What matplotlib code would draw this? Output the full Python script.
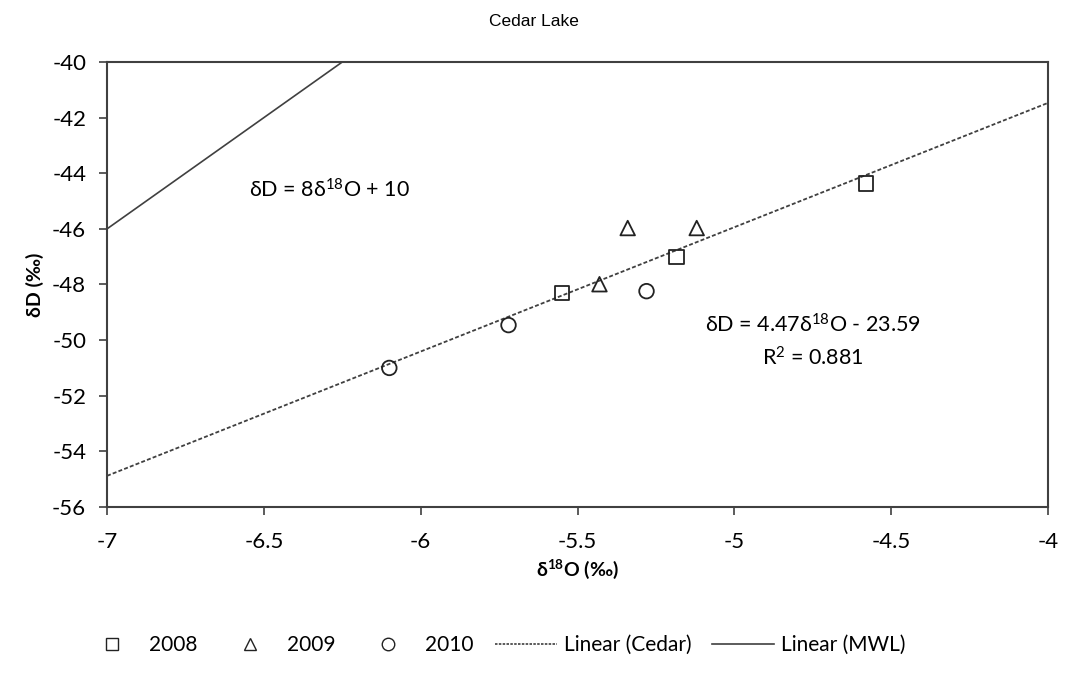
import numpy as np
import matplotlib
matplotlib.use("Agg")
import matplotlib.pyplot as plt
from matplotlib.lines import Line2D

plt.rcParams['font.family'] = ['Lato', 'DejaVu Sans']
plt.rcParams['mathtext.fontset'] = 'custom'
plt.rcParams['mathtext.rm'] = 'Lato'
plt.rcParams['mathtext.default'] = 'regular'
plt.rcParams['axes.unicode_minus'] = False

# data
x2008 = [-5.55, -5.185, -4.58]
y2008 = [-48.31, -47.01, -44.36]
x2009 = [-5.34, -5.12, -5.43]
y2009 = [-45.97, -45.97, -47.99]
x2010 = [-6.10, -5.72, -5.28]
y2010 = [-51.0, -49.46, -48.24]

cedar_slope, cedar_icpt = 4.47, -23.59
mwl_slope, mwl_icpt = 8, 10

xticks = [-7, -6.5, -6, -5.5, -5, -4.5, -4]
yticks = [-40, -42, -44, -46, -48, -50, -52, -54, -56]

fig = plt.figure(figsize=(10.67, 6.74), dpi=100)
ax = fig.add_axes([0.1003, 0.2478, 0.8819, 0.6602])

col = '#404040'
ax.scatter(x2008, y2008, marker='s', s=110, facecolors='none', edgecolors='#222222', linewidths=1.3, zorder=3)
ax.scatter(x2009, y2009, marker='^', s=110, facecolors='none', edgecolors='#222222', linewidths=1.3, zorder=3)
ax.scatter(x2010, y2010, marker='o', s=110, facecolors='none', edgecolors='#222222', linewidths=1.3, zorder=3)

xl = np.array([-7, -4])
ax.plot(xl, cedar_slope * xl + cedar_icpt, color=col, lw=1.3, linestyle=(0, (2.2, 1.2)), zorder=2)
ax.plot(xl, mwl_slope * xl + mwl_icpt, color=col, lw=1.2, zorder=2)

ax.set_xlim(-7, -4)
ax.set_ylim(-56, -40)
ax.set_xticks(xticks)
ax.set_xticklabels([f'{t:g}' for t in xticks])
ax.set_yticks(yticks)
for s in ax.spines.values():
    s.set_color(col)
    s.set_linewidth(1.5)
ax.tick_params(direction='out', length=6, width=1.2, color=col, labelsize=16)
ax.tick_params(axis='x', pad=12)
ax.tick_params(axis='y', pad=9)

ax.set_xlabel('δ$^{18}$O (‰)', fontsize=14, fontweight='bold', labelpad=4)
ax.set_ylabel('δD (‰)', fontsize=14, fontweight='bold', labelpad=6)
fig.text(0.5, 0.968, 'Cedar Lake', ha='center', va='center', fontsize=12.5, family='Liberation Sans')

ax.text(-6.29, -44.6, 'δD = 8δ$^{18}$O + 10', fontsize=15.5, ha='center', va='center')
ax.text(-4.75, -49.46, 'δD = 4.47δ$^{18}$O - 23.59', fontsize=15.5, ha='center', va='center')
ax.text(-4.75, -50.65, 'R$^{2}$ = 0.881', fontsize=15.5, ha='center', va='center')

handles = [
    Line2D([], [], marker='s', ls='none', mfc='none', mec='#222222', ms=9),
    Line2D([], [], marker='^', ls='none', mfc='none', mec='#222222', ms=9),
    Line2D([], [], marker='o', ls='none', mfc='none', mec='#222222', ms=9),
    Line2D([], [], color=col, lw=1.2, linestyle=(0, (1.5, 0.8))),
    Line2D([], [], color=col, lw=1.2),
]
labels = ['2008', '2009', '2010', 'Linear (Cedar)', 'Linear (MWL)']
fig.legend(handles, labels, loc='center', bbox_to_anchor=(0.462, 0.043), ncol=5,
           frameon=False, fontsize=15, handlelength=3.0, columnspacing=1.0, handletextpad=0.3)

fig.savefig('out.png', dpi=100)
